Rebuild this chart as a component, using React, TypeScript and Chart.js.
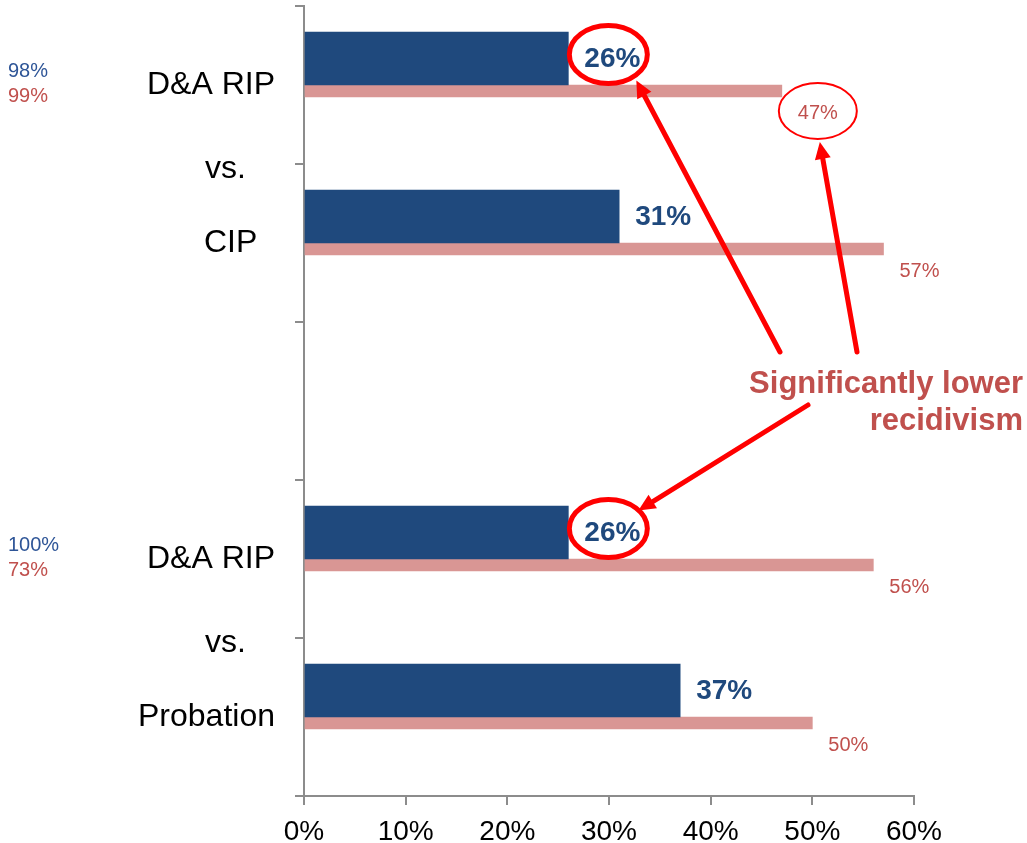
import React, { useEffect, useRef } from "react";
import { Chart, registerables } from "chart.js";

Chart.register(...registerables);

const FONT = '"Liberation Sans", Arial, Helvetica, sans-serif';

// Categories (y axis). Empty slot separates the two comparisons.
const categories = ["D&A RIP", "CIP  ", "", "D&A RIP", "Probation"];
// Dark bars: recidivism rate
const darkRates = [26, 31, null, 26, 37];
// Pink bars: comparison rate
const pinkRates = [47, 57, null, 56, 50];
// Side notes at the left edge
const sideBlue = ["98%", "", "", "100%", ""];
const sideRed = ["99%", "", "", "73%", ""];
// "vs." appears after these category indexes
const vsAfter = [0, 3];
// X axis ticks
const xMin = 0;
const xMax = 60;
const xStep = 10;

// Highlighted labels (indexes of categories)
const circledDark = [0, 3];
const circledPink = [0];
const calloutLines = ["Significantly lower", "recidivism"];

const DARK = "#1F497D";
const PINK = "#D99694";
const RED_TEXT = "#C0504D";
const BLUE_TEXT = "#2E5597";
const ANN = "#FF0000";

function arrow(ctx: CanvasRenderingContext2D, x1: number, y1: number, x2: number, y2: number) {
  const ang = Math.atan2(y2 - y1, x2 - x1);
  const hl = 17;
  const hw = 8;
  const bx = x2 - hl * Math.cos(ang);
  const by = y2 - hl * Math.sin(ang);
  ctx.strokeStyle = ANN;
  ctx.fillStyle = ANN;
  ctx.lineWidth = 5;
  ctx.lineCap = "round";
  ctx.beginPath();
  ctx.moveTo(x1, y1);
  ctx.lineTo(bx, by);
  ctx.stroke();
  ctx.beginPath();
  ctx.moveTo(x2, y2);
  ctx.lineTo(bx + hw * Math.sin(ang), by - hw * Math.cos(ang));
  ctx.lineTo(bx - hw * Math.sin(ang), by + hw * Math.cos(ang));
  ctx.closePath();
  ctx.fill();
}

const overlayPlugin = {
  id: "overlay",
  afterDatasetsDraw(chart: any) {
    const ctx: CanvasRenderingContext2D = chart.ctx;
    const ys = chart.scales.y;
    const area = chart.chartArea;
    const m0 = chart.getDatasetMeta(0);
    const m1 = chart.getDatasetMeta(1);
    ctx.save();
    ctx.textBaseline = "middle";

    // value labels
    m0.data.forEach((el: any, i: number) => {
      if (darkRates[i] == null) return;
      ctx.font = `bold 28px ${FONT}`;
      ctx.fillStyle = DARK;
      ctx.textAlign = "left";
      ctx.fillText(darkRates[i] + "%", el.x + 16, el.y + 1);
    });
    m1.data.forEach((el: any, i: number) => {
      if (pinkRates[i] == null) return;
      ctx.font = `20px ${FONT}`;
      ctx.fillStyle = RED_TEXT;
      ctx.textAlign = "left";
      ctx.fillText(pinkRates[i] + "%", el.x + 16, el.y + 22);
    });

    // side notes
    categories.forEach((_, i) => {
      const cy = ys.getPixelForValue(i);
      ctx.font = `20px ${FONT}`;
      ctx.textAlign = "left";
      if (sideBlue[i]) {
        ctx.fillStyle = BLUE_TEXT;
        ctx.fillText(sideBlue[i], 8, cy - 14);
      }
      if (sideRed[i]) {
        ctx.fillStyle = RED_TEXT;
        ctx.fillText(sideRed[i], 8, cy + 11);
      }
    });

    // vs.
    vsAfter.forEach((i) => {
      const by = (ys.getPixelForValue(i) + ys.getPixelForValue(i + 1)) / 2;
      ctx.font = `32px ${FONT}`;
      ctx.fillStyle = "#000";
      ctx.textAlign = "right";
      ctx.fillText("vs.", area.left - 58, by + 5);
    });

    // ellipses around dark labels
    const darkCenters: { x: number; y: number }[] = [];
    circledDark.forEach((i) => {
      const el = m0.data[i];
      const cx = el.x + 40;
      const cy = el.y - 4;
      darkCenters.push({ x: cx, y: cy });
      ctx.strokeStyle = ANN;
      ctx.lineWidth = 5;
      ctx.beginPath();
      ctx.ellipse(cx, cy, 39, 29, 0, 0, Math.PI * 2);
      ctx.stroke();
    });
    const pinkCenters: { x: number; y: number }[] = [];
    circledPink.forEach((i) => {
      const el = m1.data[i];
      const cx = el.x + 36;
      const cy = el.y + 20;
      pinkCenters.push({ x: cx, y: cy });
      ctx.strokeStyle = ANN;
      ctx.lineWidth = 2;
      ctx.beginPath();
      ctx.ellipse(cx, cy, 39, 28, 0, 0, Math.PI * 2);
      ctx.stroke();
    });

    // callout text
    ctx.font = `bold 31px ${FONT}`;
    ctx.fillStyle = RED_TEXT;
    ctx.textAlign = "right";
    ctx.textBaseline = "alphabetic";
    const tx = chart.width - 4;
    ctx.fillText(calloutLines[0], tx, 393);
    ctx.fillText(calloutLines[1], tx, 430);

    // arrows
    arrow(ctx, 780, 352, darkCenters[0].x + 28, darkCenters[0].y + 26);
    arrow(ctx, 857, 352, pinkCenters[0].x + 2, pinkCenters[0].y + 31);
    arrow(ctx, 808, 405, darkCenters[1].x + 30, darkCenters[1].y - 18);

    ctx.restore();
  },
};

export default function App() {
  const ref = useRef<HTMLCanvasElement | null>(null);
  useEffect(() => {
    if (!ref.current) return;
    const chart = new Chart(ref.current, {
      type: "bar",
      data: {
        labels: categories,
        datasets: [
          {
            data: darkRates as any,
            backgroundColor: DARK,
            barThickness: 53,
          },
          {
            data: pinkRates as any,
            backgroundColor: PINK,
            barThickness: 12,
          },
        ],
      },
      options: {
        indexAxis: "y",
        animation: false,
        responsive: false,
        layout: { padding: { top: 6, right: 113, left: 0, bottom: 0 } },
        plugins: { legend: { display: false }, tooltip: { enabled: false } },
        scales: {
          x: {
            min: xMin,
            max: xMax,
            ticks: {
              stepSize: xStep,
              callback: (v: any) => v + "%",
              font: { family: FONT, size: 28 },
              color: "#000",
              padding: 10,
              maxRotation: 0,
            },
            grid: { drawOnChartArea: false, drawTicks: true, tickLength: 9, color: "#8c8c8c", lineWidth: 2 },
            border: { color: "#8c8c8c", width: 2 },
            afterFit: (s: any) => {
              s.height = 47;
              s.paddingLeft = 0;
              s.paddingRight = 0;
            },
          },
          y: {
            ticks: {
              font: { family: FONT, size: 32 },
              color: "#000",
              padding: 20,
              autoSkip: false,
            },
            grid: { offset: true, drawOnChartArea: false, drawTicks: true, tickLength: 9, color: "#8c8c8c", lineWidth: 2 },
            border: { color: "#8c8c8c", width: 2 },
            afterFit: (s: any) => {
              s.width = 304;
              s.paddingTop = 0;
              s.paddingBottom = 0;
            },
          },
        },
      },
      plugins: [overlayPlugin],
    });
    return () => chart.destroy();
  }, []);
  return (
    <div style={{ position: "absolute", left: 0, top: 0, width: 1027, height: 843, background: "#fff" }}>
      <canvas ref={ref} width={1027} height={843} style={{ display: "block" }} />
    </div>
  );
}
